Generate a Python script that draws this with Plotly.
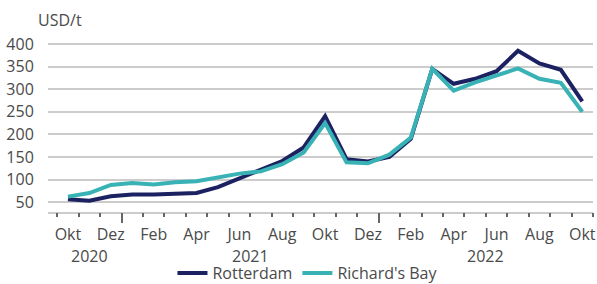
import plotly.graph_objects as go

months = ["Okt", "Nov", "Dez", "Jan", "Feb", "Mär", "Apr", "Mai", "Jun", "Jul", "Aug", "Sep",
          "Okt", "Nov", "Dez", "Jan", "Feb", "Mär", "Apr", "Mai", "Jun", "Jul", "Aug", "Sep", "Okt"]
rotterdam = [56, 53, 63, 67, 67, 68, 70, 83, 102, 122, 141, 171, 240, 145, 140, 150, 190,
             345, 312, 323, 340, 385, 357, 343, 273]
richards_bay = [62, 70, 88, 92, 89, 94, 96, 104, 113, 118, 134, 160, 225, 138, 136, 155, 193,
                345, 297, 315, 330, 346, 323, 314, 250]
years = ["2020", "2021", "2022"]
year_start = [0, 3, 15]
year_end = [2, 14, 24]
y_ticks = [50, 100, 150, 200, 250, 300, 350, 400]

NAVY = "#1c2161"
TEAL = "#38b2b5"
TXT = "#4a4a4a"
GRID = "#cccccc"
FONT = "Open Sans"

x = list(range(len(months)))
xr = [-0.93, len(months) - 0.5]

fig = go.Figure()
fig.add_trace(go.Scatter(x=x, y=rotterdam, mode="lines", name="Rotterdam",
                         line=dict(color=NAVY, width=4)))
fig.add_trace(go.Scatter(x=x, y=richards_bay, mode="lines", name="Richard's Bay",
                         line=dict(color=TEAL, width=4)))
# invisible traces to activate overlay axes
fig.add_trace(go.Scatter(x=[x[0]], y=[None], xaxis="x2", showlegend=False, hoverinfo="skip"))
fig.add_trace(go.Scatter(x=[x[0]], y=[None], xaxis="x3", showlegend=False, hoverinfo="skip"))

label_idx = x[::2]
fig.update_layout(
    width=597, height=284,
    margin=dict(l=48, r=4, t=40, b=72, autoexpand=False),
    paper_bgcolor="white", plot_bgcolor="white",
    font=dict(family=FONT, size=16, color=TXT),
    showlegend=True,
    legend=dict(orientation="h", x=0.477, xanchor="center", y=-0.355, yanchor="middle",
                font=dict(family=FONT, size=16, color=TXT), itemwidth=30,
                tracegroupgap=0, bgcolor="rgba(0,0,0,0)"),
    xaxis=dict(range=xr, tickmode="array", tickvals=label_idx,
               ticktext=[months[i] for i in label_idx],
               ticks="outside", ticklen=7, tickcolor="rgba(0,0,0,0)",
               ticklabeloverflow="allow",
               showgrid=False, zeroline=False, showline=True, linecolor=GRID, linewidth=1.5,
               tickfont=dict(family=FONT, size=16, color=TXT)),
    xaxis2=dict(range=xr, overlaying="x", anchor="y", side="bottom", tickmode="array",
                tickvals=[i - 0.5 for i in range(len(months) + 1)],
                ticks="outside", ticklen=4, tickwidth=1.5, tickcolor="#666666",
                showticklabels=False, showgrid=False, zeroline=False, showline=False),
    xaxis3=dict(range=xr, overlaying="x", anchor="y", side="bottom", tickmode="array",
                tickvals=[e + 0.5 for e in year_end[:-1]],
                ticks="outside", ticklen=10, tickwidth=1.5, tickcolor="#666666",
                showticklabels=False, showgrid=False, zeroline=False, showline=False),
    yaxis=dict(range=[28, 409], tickmode="array", tickvals=y_ticks,
               ticks="outside", ticklen=10, tickcolor="rgba(0,0,0,0)",
               showgrid=True, gridcolor=GRID, gridwidth=1.5, zeroline=False,
               tickfont=dict(family=FONT, size=16, color=TXT)),
)

for name, s, e in zip(years, year_start, year_end):
    fig.add_annotation(x=(s + e) / 2, xref="x", y=-0.255, yref="paper", text=name,
                       showarrow=False, xanchor="center", yanchor="middle",
                       font=dict(family=FONT, size=16, color=TXT))

fig.add_annotation(x=-0.022, xref="paper", y=1.116, yref="paper", text="USD/t",
                   showarrow=False, xanchor="left", yanchor="middle",
                   font=dict(family=FONT, size=16, color=TXT))

fig.write_html("out.html", config={"displayModeBar": False},
               post_script="document.body.style.margin='0px';")
